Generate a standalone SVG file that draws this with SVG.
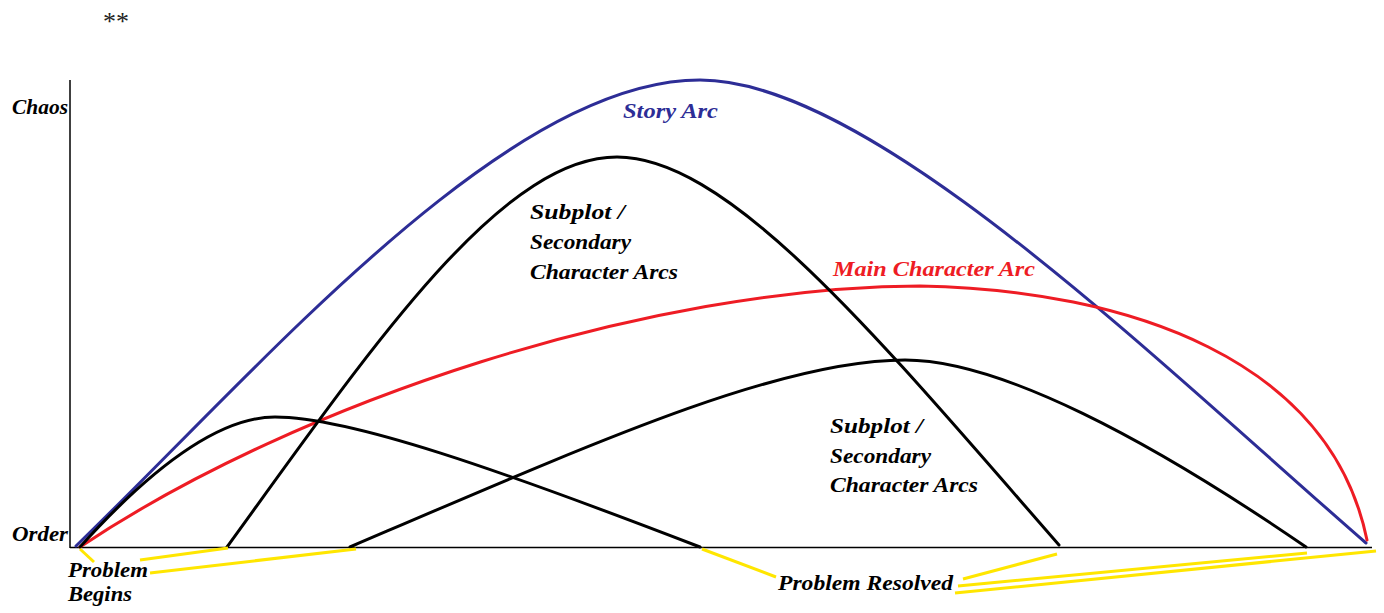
<svg xmlns="http://www.w3.org/2000/svg" width="1384" height="613" viewBox="0 0 1384 613">
<style>
.lbl{font-family:"Liberation Serif","Times New Roman",serif;font-weight:bold;font-style:italic;font-size:20px;}
.arc{fill:none;stroke-width:3;stroke-linecap:round;stroke-linejoin:round;}
.blk{stroke:#000;}
.lead{fill:none;stroke:#ffe600;stroke-width:3;stroke-linecap:butt;}
</style>
<rect width="1384" height="613" fill="#fff"/>
<text x="103" y="30" font-family="Liberation Serif,serif" font-size="26" fill="#222">**</text>
<g id="axes">
<line x1="70" y1="80" x2="70" y2="548" stroke="#000" stroke-width="1.5"/>
<line x1="70" y1="547.5" x2="1372" y2="547.5" stroke="#000" stroke-width="1.5"/>
<text class="lbl" x="12" y="114" textLength="56" lengthAdjust="spacingAndGlyphs">Chaos</text>
<text class="lbl" x="12" y="541" textLength="56" lengthAdjust="spacingAndGlyphs">Order</text>
</g>
<g id="story-arc">
<path class="arc" stroke="#2d2d96" d="M76,546 C260,368 505,80 700,80 C870,80 1150,355 1366,543"/>
<text class="lbl" x="623" y="118" fill="#2d2d96" textLength="95" lengthAdjust="spacingAndGlyphs">Story Arc</text>
</g>
<g id="main-character-arc">
<path class="arc" stroke="#ee1c24" d="M80,547 C300,400 650,287 920,286 C1130,290 1330,360 1367,540"/>
<text class="lbl" x="833" y="276" fill="#ee1c24" textLength="202" lengthAdjust="spacingAndGlyphs">Main Character Arc</text>
</g>
<g id="subplot-arc-1">
<path class="arc blk" d="M227,547 C370,350 500,157 617,157 C730,157 880,340 1059,545"/>
<text class="lbl" x="530" y="219" textLength="95" lengthAdjust="spacingAndGlyphs">Subplot /</text>
<text class="lbl" x="530" y="249" textLength="101" lengthAdjust="spacingAndGlyphs">Secondary</text>
<text class="lbl" x="530" y="279" textLength="148" lengthAdjust="spacingAndGlyphs">Character Arcs</text>
</g>
<g id="subplot-arc-2">
<path class="arc blk" d="M350,547 C600,440 780,360 905,360 C1000,360 1150,440 1306,547"/>
<text class="lbl" x="830" y="433" textLength="93" lengthAdjust="spacingAndGlyphs">Subplot /</text>
<text class="lbl" x="830" y="463" textLength="101" lengthAdjust="spacingAndGlyphs">Secondary</text>
<text class="lbl" x="830" y="492" textLength="148" lengthAdjust="spacingAndGlyphs">Character Arcs</text>
</g>
<g id="subplot-arc-3">
<path class="arc blk" d="M80,547 C145,475 215,417 275,417 C350,417 500,470 700,547"/>
</g>
<g id="problem-begins">
<text class="lbl" x="68" y="577" textLength="80" lengthAdjust="spacingAndGlyphs">Problem</text>
<text class="lbl" x="68" y="601" textLength="64" lengthAdjust="spacingAndGlyphs">Begins</text>
</g>
<g id="problem-resolved">
<text class="lbl" x="778" y="590" textLength="175" lengthAdjust="spacingAndGlyphs">Problem Resolved</text>
</g>
<g id="connectors">
<line class="lead" x1="80" y1="549" x2="94" y2="562"/>
<line class="lead" x1="140" y1="560" x2="228" y2="548"/>
<line class="lead" x1="150" y1="573" x2="356" y2="549"/>
<line class="lead" x1="702" y1="549" x2="776" y2="577"/>
<line class="lead" x1="1057" y1="554" x2="963" y2="579"/>
<line class="lead" x1="1307" y1="553" x2="958" y2="586"/>
<line class="lead" x1="1376" y1="551" x2="955" y2="593"/>
</g>
</svg>
